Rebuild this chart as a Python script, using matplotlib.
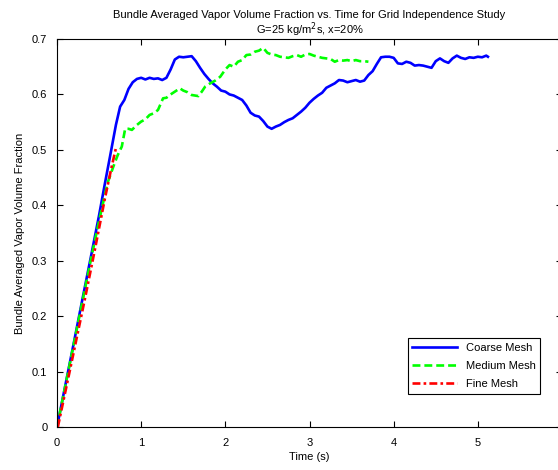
import matplotlib
matplotlib.use('Agg')
import matplotlib.pyplot as plt

plt.rcParams['font.family'] = ['Liberation Sans', 'DejaVu Sans']

# coarse mesh
t_coarse = [0, 0.1, 0.2, 0.3, 0.4, 0.5, 0.57, 0.63, 0.7, 0.75,
            0.8, 0.85, 0.9, 0.95, 1.0, 1.05, 1.1, 1.15, 1.2, 1.25,
            1.3, 1.35, 1.4, 1.45, 1.5, 1.55, 1.6, 1.65, 1.7, 1.75,
            1.8, 1.85, 1.9, 1.95, 2.0, 2.05, 2.1, 2.15, 2.2, 2.25,
            2.3, 2.35, 2.4, 2.45, 2.5, 2.55, 2.6, 2.65, 2.7, 2.75,
            2.8, 2.85, 2.9, 2.95, 3.0, 3.05, 3.1, 3.15, 3.2, 3.25,
            3.3, 3.35, 3.4, 3.45, 3.5, 3.55, 3.6, 3.65, 3.7, 3.75,
            3.8, 3.85, 3.9, 3.95, 4.0, 4.05, 4.1, 4.15, 4.2, 4.25,
            4.3, 4.35, 4.4, 4.45, 4.5, 4.55, 4.6, 4.65, 4.7, 4.75,
            4.8, 4.85, 4.9, 4.95, 5.0, 5.05, 5.1, 5.12]
v_coarse = [0, 0.076, 0.152, 0.229, 0.305, 0.382, 0.44, 0.488, 0.545, 0.578,
            0.59, 0.61, 0.622, 0.628, 0.63, 0.627, 0.63, 0.628, 0.629, 0.626,
            0.63, 0.645, 0.663, 0.668, 0.667, 0.668, 0.669, 0.66, 0.648, 0.637,
            0.628, 0.62, 0.614, 0.607, 0.605, 0.6, 0.598, 0.594, 0.59, 0.58,
            0.567, 0.562, 0.56, 0.552, 0.542, 0.538, 0.542, 0.545, 0.55, 0.554,
            0.557, 0.563, 0.569, 0.576, 0.585, 0.592, 0.598, 0.603, 0.612, 0.616,
            0.62, 0.626, 0.625, 0.622, 0.624, 0.626, 0.623, 0.625, 0.635, 0.642,
            0.655, 0.667, 0.668, 0.668, 0.666, 0.656, 0.655, 0.659, 0.657, 0.652,
            0.653, 0.652, 0.650, 0.648, 0.660, 0.665, 0.660, 0.657, 0.665, 0.670,
            0.666, 0.664, 0.667, 0.666, 0.668, 0.667, 0.670, 0.668]

# medium mesh
t_medium = [0, 0.1, 0.2, 0.3, 0.4, 0.5, 0.6, 0.67, 0.72, 0.77,
            0.81, 0.85, 0.89, 0.95, 1.0, 1.05, 1.1, 1.15, 1.2, 1.26,
            1.3, 1.35, 1.4, 1.46, 1.5, 1.55, 1.6, 1.68, 1.72, 1.76,
            1.82, 1.88, 1.94, 2.0, 2.05, 2.1, 2.15, 2.2, 2.25, 2.3,
            2.35, 2.4, 2.45, 2.5, 2.55, 2.6, 2.65, 2.7, 2.75, 2.8,
            2.85, 2.9, 2.95, 3.0, 3.05, 3.1, 3.15, 3.2, 3.25, 3.3,
            3.35, 3.4, 3.45, 3.5, 3.55, 3.6, 3.65, 3.7]
v_medium = [0, 0.075, 0.15, 0.225, 0.3, 0.372, 0.44, 0.47, 0.49, 0.506,
            0.538, 0.538, 0.536, 0.545, 0.551, 0.555, 0.563, 0.566, 0.572, 0.593,
            0.594, 0.600, 0.605, 0.611, 0.607, 0.604, 0.599, 0.597, 0.605, 0.614,
            0.620, 0.625, 0.632, 0.645, 0.653, 0.650, 0.659, 0.662, 0.671, 0.672,
            0.677, 0.679, 0.684, 0.675, 0.672, 0.671, 0.668, 0.667, 0.666, 0.669,
            0.671, 0.668, 0.672, 0.673, 0.670, 0.668, 0.666, 0.665, 0.664, 0.659,
            0.662, 0.661, 0.662, 0.660, 0.662, 0.660, 0.660, 0.659]

# fine mesh
t_fine = [0.01, 0.15, 0.33, 0.45, 0.57, 0.65, 0.70]
v_fine = [0, 0.1, 0.23, 0.32, 0.413, 0.47, 0.503]

fig = plt.figure(figsize=(5.58, 4.70), dpi=100)
ax = fig.add_axes([57/558, 43/470, 505/558, 388/470])

ax.plot(t_coarse, v_coarse, color='#0000ff', lw=1.9, label='Coarse Mesh')
ax.plot(t_medium, v_medium, color='#00ff00', lw=1.9, ls=(0, (3, 1.5)), label='Medium Mesh')
ax.plot(t_fine, v_fine, color='#ff0000', lw=1.9, ls=(0, (3, 1.2, 1, 1.2)), label='Fine Mesh')

ax.set_xlim(0, 6)
ax.set_ylim(0, 0.7)
ax.set_xticks(range(7))
ax.set_yticks([0, 0.1, 0.2, 0.3, 0.4, 0.5, 0.6, 0.7])
ax.set_yticklabels(['0', '0.1', '0.2', '0.3', '0.4', '0.5', '0.6', '0.7'])
ax.tick_params(direction='in', length=4, width=0.8, top=True, right=True,
               labelsize=8)
ax.tick_params(axis='x', pad=8)
ax.tick_params(axis='y', pad=7)

ax.set_xlabel('Time (s)', fontsize=8, labelpad=3)
ax.set_ylabel('Bundle Averaged Vapor Volume Fraction', fontsize=8, labelpad=5)
ax.set_title('Bundle Averaged Vapor Volume Fraction vs. Time for Grid Independence Study\n'
             'G=25 kg/m$^2$s, x=20%', fontsize=8, pad=4, linespacing=1.05)

leg = ax.legend(loc='upper left', bbox_to_anchor=(0.695, 0.229), borderaxespad=0,
                fontsize=8, fancybox=False, handlelength=4.0, framealpha=1,
                labelspacing=0.75)
leg.get_frame().set_edgecolor('black')
leg.get_frame().set_linewidth(0.8)

fig.savefig('out.png', dpi=100)
